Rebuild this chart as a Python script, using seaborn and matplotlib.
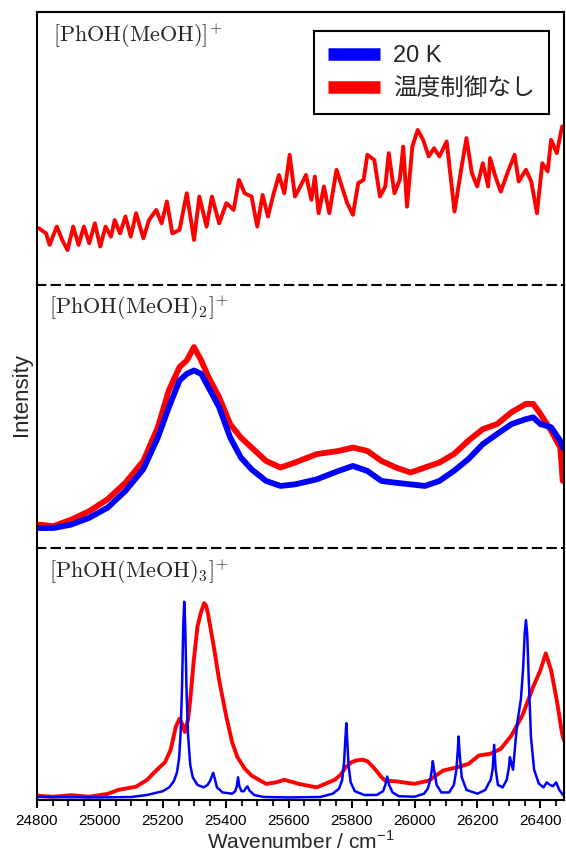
import matplotlib
matplotlib.use("Agg")
import matplotlib.pyplot as plt
from matplotlib.lines import Line2D
from matplotlib.ticker import MultipleLocator
import seaborn as sns

# --- data (intensity = % of each panel height) ---
# top panel: [PhOH(MeOH)]+, only the uncontrolled-temperature trace
wn_top = [24806, 24829, 24840, 24863, 24880, 24897, 24915, 24932, 24949, 24966,
          24984, 25001, 25018, 25035, 25047, 25064, 25081, 25098, 25115, 25138,
          25156, 25179, 25196, 25213, 25230, 25253, 25276, 25299, 25316, 25339,
          25356, 25379, 25402, 25425, 25442, 25460, 25482, 25500, 25517, 25534,
          25551, 25569, 25586, 25603, 25620, 25637, 25655, 25672, 25683, 25695,
          25712, 25729, 25752, 25769, 25786, 25804, 25821, 25838, 25850, 25872,
          25890, 25907, 25918, 25936, 25953, 25964, 25976, 25993, 26010, 26027,
          26045, 26062, 26079, 26102, 26127, 26148, 26165, 26182, 26199, 26217,
          26234, 26240, 26257, 26274, 26297, 26318, 26331, 26354, 26371, 26389,
          26406, 26423, 26434, 26452, 26469, 26475]
top_warm = [20.8, 18.9, 14.7, 21.4, 16.5, 12.8, 21.4, 14.7, 21.4, 15.3,
            22.6, 14.1, 21.4, 17.7, 23.8, 18.9, 25.1, 17.7, 26.3, 17.1,
            23.8, 27.5, 22.6, 30.6, 18.9, 20.2, 33.6, 16.5, 32.4, 21.4,
            32.4, 22.6, 30.0, 27.5, 38.5, 33.6, 32.4, 21.4, 33.0, 25.1,
            33.0, 40.3, 33.6, 47.7, 32.4, 36.1, 40.3, 31.2, 39.7, 26.3,
            36.1, 26.3, 42.2, 36.1, 30.0, 25.7, 37.3, 38.5, 47.7, 45.8,
            32.4, 36.1, 48.3, 33.6, 38.5, 50.7, 28.7, 50.7, 56.8, 53.2,
            47.1, 50.1, 47.1, 52.6, 26.9, 42.2, 53.8, 41.0, 36.1, 44.6,
            36.1, 46.5, 39.7, 34.2, 41.6, 47.7, 37.9, 42.2, 37.9, 26.3,
            44.6, 41.6, 53.2, 48.3, 58.1, 57.5]

# middle panel: [PhOH(MeOH)2]+
wn_mid = [24806, 24852, 24909, 24966, 25024, 25081, 25138, 25184, 25219, 25253,
          25276, 25299, 25322, 25345, 25379, 25414, 25448, 25482, 25528, 25574,
          25620, 25689, 25758, 25804, 25850, 25895, 25941, 25987, 26033, 26079,
          26125, 26171, 26217, 26262, 26308, 26354, 26377, 26400, 26434, 26463,
          26471]
mid_warm = [8.9, 8.3, 10.8, 14.0, 18.5, 24.8, 33.1, 45.9, 59.9, 68.8,
            71.3, 76.4, 71.3, 65.0, 57.3, 47.1, 42.0, 38.2, 33.1, 30.6,
            32.5, 35.7, 36.9, 38.2, 36.9, 33.1, 30.6, 28.7, 30.6, 32.5,
            35.7, 40.8, 45.2, 47.1, 51.6, 54.8, 54.8, 51.0, 44.6, 38.2,
            25.5]
mid_cold = [7.6, 7.6, 8.9, 11.5, 15.3, 21.7, 30.0, 42.0, 53.5, 63.7,
            66.2, 67.5, 66.2, 61.1, 53.5, 42.0, 34.4, 29.9, 25.5, 23.6,
            24.2, 26.1, 29.3, 31.2, 29.3, 25.5, 24.8, 24.2, 23.6, 25.5,
            29.3, 33.8, 39.5, 43.3, 47.1, 49.0, 49.7, 47.1, 45.9, 40.8,
            38.2]

# bottom panel: [PhOH(MeOH)3]+
wn_bot_warm = [24800, 24852, 24909, 24966, 25024, 25058, 25115, 25150, 25173, 25207,
               25225, 25241, 25253, 25262, 25270, 25280, 25287, 25298, 25310, 25320,
               25331, 25338, 25345, 25362, 25379, 25402, 25420, 25437, 25460, 25482,
               25528, 25560, 25586, 25610, 25632, 25689, 25746, 25765, 25781, 25800,
               25815, 25835, 25850, 25865, 25878, 25895, 25907, 25941, 25999, 26045,
               26091, 26136, 26171, 26205, 26240, 26274, 26308, 26343, 26377, 26400,
               26417, 26434, 26452, 26469, 26475]
bot_warm = [1.7, 1.3, 1.9, 1.3, 2.4, 4.0, 5.3, 8.0, 11.0, 15.0,
            20.0, 29.0, 32.3, 30.0, 27.0, 32.0, 39.6, 55.0, 68.8, 74.0,
            78.1, 77.0, 72.8, 60.8, 47.5, 32.9, 23.0, 17.0, 12.5, 9.7,
            6.4, 7.0, 8.0, 7.2, 6.4, 5.0, 8.0, 10.0, 13.0, 15.0,
            15.7, 16.0, 15.4, 13.5, 11.7, 9.0, 7.7, 7.4, 6.4, 7.7,
            11.7, 13.0, 14.3, 17.7, 18.3, 20.3, 25.6, 33.6, 44.9, 51.5,
            58.2, 51.5, 39.6, 26.3, 23.6]
wn_bot_cold = [24800, 25000, 25100, 25150, 25200, 25220, 25235, 25245, 25252, 25257,
               25261, 25265, 25268, 25271, 25275, 25280, 25287, 25295, 25310, 25330,
               25342, 25350, 25356, 25360, 25364, 25372, 25390, 25420, 25430, 25435,
               25439, 25443, 25450, 25458, 25464, 25469, 25475, 25490, 25520, 25600,
               25700, 25740, 25760, 25770, 25776, 25780, 25783, 25786, 25790, 25797,
               25810, 25840, 25880, 25900, 25907, 25913, 25919, 25930, 25950, 26000,
               26030, 26042, 26050, 26055, 26058, 26062, 26070, 26085, 26110, 26125,
               26133, 26137, 26140, 26143, 26150, 26165, 26200, 26225, 26235, 26242,
               26248, 26253, 26258, 26265, 26280, 26293, 26300, 26303, 26307, 26313,
               26320, 26326, 26331, 26338, 26345, 26350, 26354, 26358, 26363, 26370,
               26380, 26395, 26410, 26420, 26430, 26440, 26450, 26460, 26475]
bot_cold = [1.2, 1.0, 1.2, 2.0, 3.5, 5.0, 7.5, 11.0, 17.0, 28.0,
            45.0, 70.0, 78.7, 70.0, 45.0, 26.0, 14.0, 9.0, 6.0, 5.0,
            6.0, 7.5, 9.5, 10.8, 9.0, 5.0, 3.0, 2.5, 3.5, 5.5,
            9.0, 5.5, 3.5, 3.5, 4.8, 5.4, 3.8, 2.0, 1.2, 1.0,
            1.2, 2.5, 4.5, 8.0, 15.0, 24.0, 30.5, 24.0, 14.0, 7.0,
            3.5, 2.0, 2.0, 3.5, 6.0, 9.3, 6.0, 3.0, 1.5, 1.3,
            2.5, 4.5, 8.0, 12.0, 15.4, 12.0, 6.0, 3.0, 3.0, 6.0,
            12.0, 19.0, 25.2, 19.0, 9.0, 4.0, 2.5, 4.0, 6.5, 8.0,
            12.0, 21.9, 12.0, 6.0, 5.0, 8.0, 13.0, 17.0, 15.0, 12.0,
            22.0, 30.0, 34.3, 40.0, 52.0, 66.0, 71.4, 66.0, 48.0, 25.0,
            12.0, 6.5, 5.0, 7.0, 6.0, 5.5, 7.0, 4.0, 1.5]

labels = ["20 K", "温度制御なし"]
panel_titles = [r"$\mathrm{[PhOH(MeOH)]^{+}}$",
                r"$\mathrm{[PhOH(MeOH)_2]^{+}}$",
                r"$\mathrm{[PhOH(MeOH)_3]^{+}}$"]
x_ticks = list(range(24800, 26401, 200))

BLUE = "#0000ff"
RED = "#ff0000"

sns.set_theme(style="ticks")
plt.rcParams["font.family"] = ["Liberation Sans", "Noto Sans CJK JP", "DejaVu Sans"]
plt.rcParams["mathtext.fontset"] = "custom"
plt.rcParams["mathtext.rm"] = "Liberation Sans"
plt.rcParams["mathtext.sf"] = "Liberation Sans"

fig = plt.figure(figsize=(5.66, 8.58), dpi=100)
gs = fig.add_gridspec(3, 1, left=37 / 566, right=564 / 566, top=1 - 12 / 858,
                      bottom=1 - 800 / 858, hspace=0, height_ratios=[273, 263, 252])
ax1 = fig.add_subplot(gs[0])
ax2 = fig.add_subplot(gs[1], sharex=ax1)
ax3 = fig.add_subplot(gs[2], sharex=ax1)
axes = [ax1, ax2, ax3]

sns.lineplot(x=wn_top, y=top_warm, ax=ax1, color=RED, lw=2.8, estimator=None)
sns.lineplot(x=wn_mid, y=mid_warm, ax=ax2, color=RED, lw=4.2, estimator=None)
sns.lineplot(x=wn_mid, y=mid_cold, ax=ax2, color=BLUE, lw=4.2, estimator=None)
sns.lineplot(x=wn_bot_warm, y=bot_warm, ax=ax3, color=RED, lw=2.8, estimator=None)
sns.lineplot(x=wn_bot_cold, y=bot_cold, ax=ax3, color=BLUE, lw=1.8, estimator=None)

for ax, title, tx, ty in zip(axes, panel_titles, [0.030, 0.023, 0.023], [0.965, 0.968, 0.962]):
    ax.set_facecolor("none")
    ax.set_ylim(0, 100)
    ax.set_yticks([])
    ax.set_ylabel("")
    for sp in ax.spines.values():
        sp.set_linewidth(1.5)
        sp.set_color("black")
    ax.text(tx, ty, title, transform=ax.transAxes, ha="left", va="top",
            fontsize=16, math_fontfamily="cm")

# dashed separators between panels
ax1.spines["bottom"].set_linestyle((0, (4, 3)))
ax2.spines["top"].set_visible(False)
ax2.spines["bottom"].set_linestyle((0, (4, 3)))
ax3.spines["top"].set_visible(False)

ax1.set_xlim(24800, 26475)
ax3.set_xticks(x_ticks)
ax3.xaxis.set_minor_locator(MultipleLocator(50))
for ax in (ax1, ax2):
    ax.tick_params(axis="x", which="both", bottom=False, labelbottom=False)
ax3.tick_params(axis="x", which="major", direction="out", length=6, width=1.5,
                labelsize=11, pad=4, colors="black")
ax3.tick_params(axis="x", which="minor", direction="out", length=4, width=1.5)
ax3.set_xlabel("Wavenumber / cm$^{-1}$", fontsize=15, labelpad=2)

fig.text(22 / 566, 1 - 395 / 858, "Intensity", rotation=90, ha="center",
         va="center", fontsize=16)

handles = [Line2D([], [], color=BLUE, lw=9, solid_capstyle="butt"),
           Line2D([], [], color=RED, lw=9, solid_capstyle="butt")]
leg = ax1.legend(handles, labels, loc="upper right", bbox_to_anchor=(0.9715, 0.930),
                 borderaxespad=0, fontsize=17, frameon=True, fancybox=False,
                 framealpha=1, edgecolor="black", handlelength=2.2,
                 handletextpad=0.55, borderpad=0.6, labelspacing=0.45)
leg.get_frame().set_linewidth(1.5)

fig.savefig("out.png", dpi=100)
